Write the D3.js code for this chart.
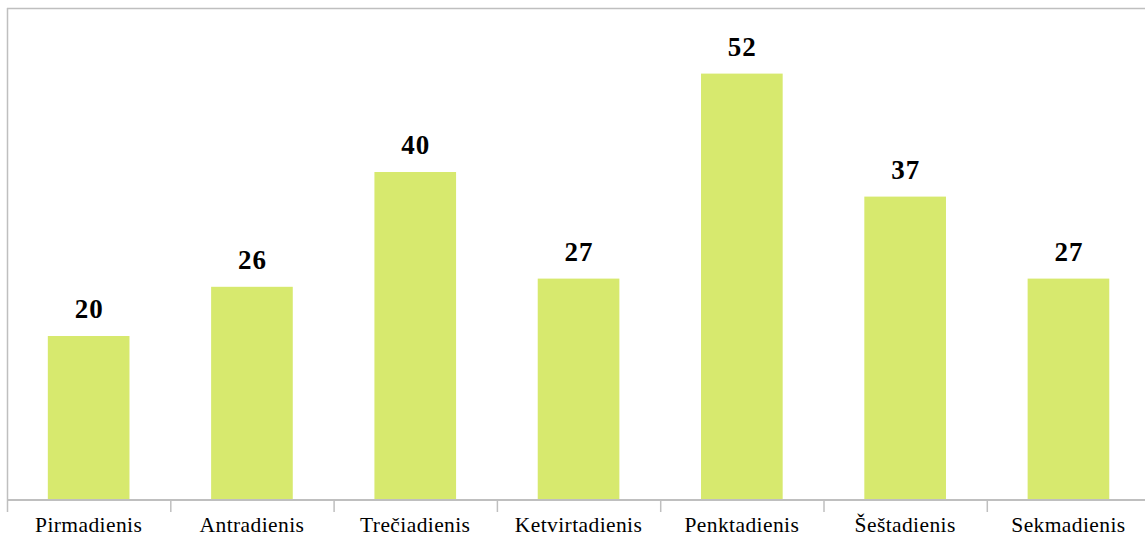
<!DOCTYPE html>
<html>
<head>
<meta charset="utf-8">
<script src="https://cdn.jsdelivr.net/npm/d3@7/dist/d3.min.js"></script>
<style>
    body { margin: 0; background: #fff; }
    .day { font-family: 'Liberation Serif', Tinos, 'Times New Roman', Times, 'DejaVu Serif'; font-size: 21.5px; letter-spacing: 0.4px; fill: #000; }
    .val { font-family: 'Liberation Serif', Tinos, 'Times New Roman', Times, 'DejaVu Serif'; font-size: 27px; letter-spacing: 1px; font-weight: bold; fill: #000; }
</style>
</head>
<body>
<div id="vis"></div>
<script>
// Days of the week and counts per day
var days = ['Pirmadienis', 'Antradienis', 'Trečiadienis', 'Ketvirtadienis', 'Penktadienis', 'Šeštadienis', 'Sekmadienis'];
var counts = [20, 26, 40, 27, 52, 37, 27];
var yMax = 60;

var width = 1145;
var height = 544;

// plot area; the right side runs past the window edge like the original
var margin = { left: 7, top: 8, bottom: 44 };
var step = 163.3;
var drawWidth = step * days.length;
var drawHeight = height - margin.top - margin.bottom;

var svg = d3.select('#vis')
    .append('svg')
    .attr('width', width)
    .attr('height', height);

var g = svg.append('g')
    .attr('transform', 'translate(' + margin.left + ',' + margin.top + ')');

var xScale = d3.scaleBand()
    .domain(days)
    .range([0, drawWidth])
    .paddingInner(0.5)
    .paddingOuter(0.25);

var yScale = d3.scaleLinear()
    .domain([0, yMax])
    .range([drawHeight, 0]);

// frame: top and left edges
g.append('line')
    .attr('x1', 0).attr('x2', drawWidth)
    .attr('y1', 0.5).attr('y2', 0.5)
    .attr('stroke', '#bfbfbf').attr('stroke-width', 1.5);
g.append('line')
    .attr('x1', 0.5).attr('x2', 0.5)
    .attr('y1', 0).attr('y2', drawHeight)
    .attr('stroke', '#bfbfbf').attr('stroke-width', 1.5);

// bars
g.selectAll('rect.bar')
    .data(counts)
    .enter().append('rect')
    .attr('class', 'bar')
    .attr('x', function(d, i) { return xScale(days[i]); })
    .attr('width', xScale.bandwidth())
    .attr('y', function(d) { return yScale(d); })
    .attr('height', function(d) { return drawHeight - yScale(d); })
    .attr('fill', '#d7e96e');

// value labels
g.selectAll('text.val')
    .data(counts)
    .enter().append('text')
    .attr('class', 'val')
    .attr('text-anchor', 'middle')
    .attr('x', function(d, i) { return xScale(days[i]) + xScale.bandwidth() / 2 + 0.5; })
    .attr('y', function(d) { return yScale(d) - 18; })
    .text(function(d) { return d; });

// x axis with ticks between categories
var xAxisG = g.append('g')
    .attr('transform', 'translate(0,' + drawHeight + ')');

xAxisG.append('line')
    .attr('x1', 0).attr('x2', drawWidth)
    .attr('y1', 0).attr('y2', 0)
    .attr('stroke', '#bfbfbf').attr('stroke-width', 2);

xAxisG.selectAll('line.tick')
    .data(d3.range(days.length + 1))
    .enter().append('line')
    .attr('class', 'tick')
    .attr('x1', function(i) { return 0.5 + i * step; })
    .attr('x2', function(i) { return 0.5 + i * step; })
    .attr('y1', 0).attr('y2', 12)
    .attr('stroke', '#bfbfbf').attr('stroke-width', 1.5);

xAxisG.selectAll('text.day')
    .data(days)
    .enter().append('text')
    .attr('class', 'day')
    .attr('text-anchor', 'middle')
    .attr('x', function(d) { return xScale(d) + xScale.bandwidth() / 2; })
    .attr('y', 32)
    .text(function(d) { return d; });
</script>
</body>
</html>
